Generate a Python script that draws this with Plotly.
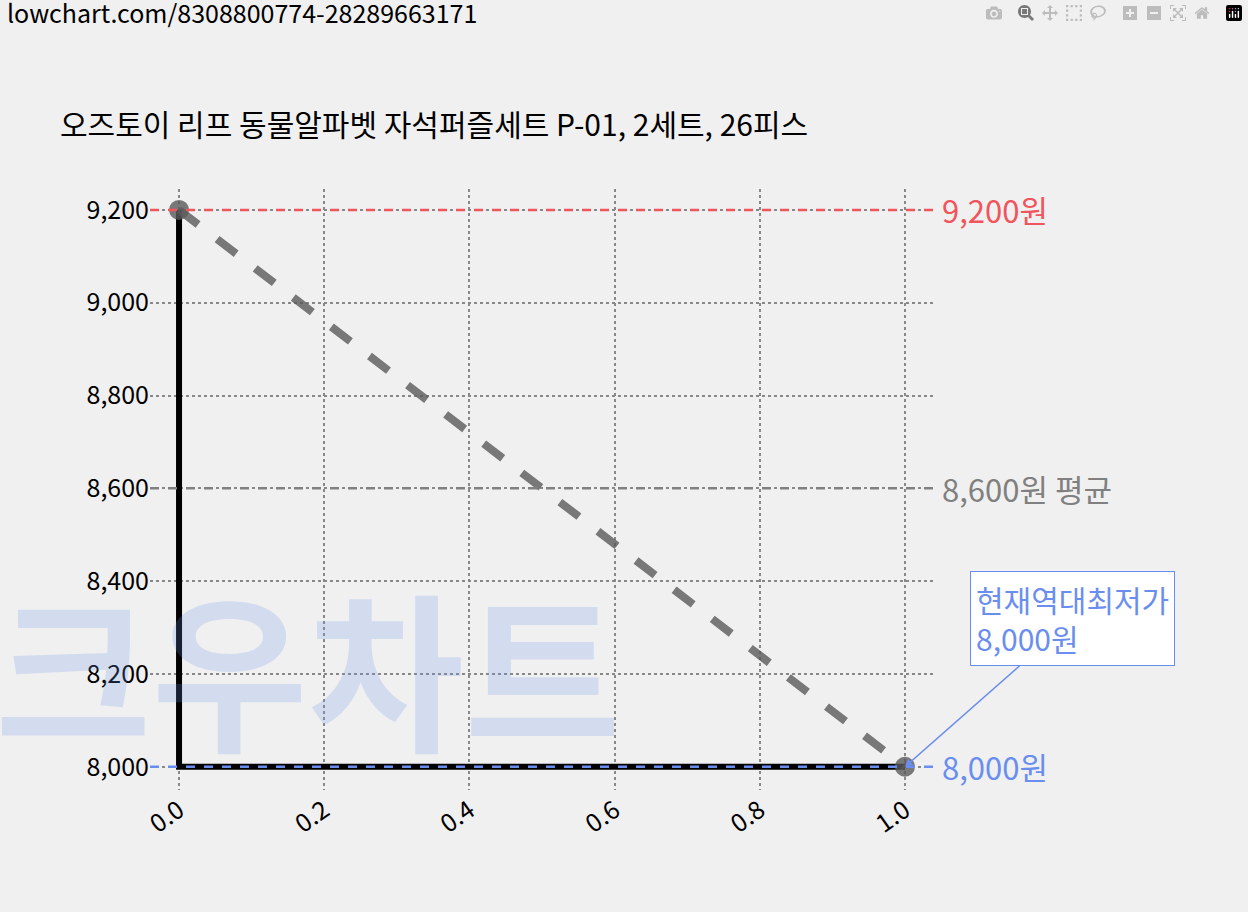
import plotly.graph_objects as go

xs = [0, 1]
prices = [9200, 8000]
max_p, avg_p, min_p = 9200, 8600, 8000
title = "오즈토이 리프 동물알파벳 자석퍼즐세트 P-01, 2세트, 26피스"
url = "lowchart.com/8308800774-28289663171"
yticks = [8000, 8200, 8400, 8600, 8800, 9000, 9200]
xticks = [0.0, 0.2, 0.4, 0.6, 0.8, 1.0]

F = "Noto Sans CJK KR"
fig = go.Figure()
fig.add_annotation(xref="paper", yref="paper", x=-0.2, y=0.0, text="<b>크우차트</b>", showarrow=False,
                   xanchor="left", yanchor="bottom", font=dict(size=170, color="rgba(110,150,235,0.22)", family=F))
fig.add_trace(go.Scatter(x=xs, y=prices, mode="lines", line=dict(color="black", width=6, shape="vh")))
fig.add_trace(go.Scatter(x=xs, y=prices, mode="lines+markers",
                         line=dict(color="rgba(90,90,90,0.8)", width=8, dash="dash"),
                         marker=dict(size=20, color="rgba(90,90,90,0.8)")))
for v, c in [(max_p, "#f0545c"), (avg_p, "#808080"), (min_p, "#6a8ef0")]:
    fig.add_shape(type="line", xref="paper", x0=0, x1=1, y0=v, y1=v,
                  line=dict(color=c, width=2.5, dash="dash"))
fig.add_annotation(xref="paper", x=1.008, y=max_p, text="9,200원", showarrow=False, xanchor="left",
                   font=dict(size=31, color="#f0545c", family=F))
fig.add_annotation(xref="paper", x=1.008, y=avg_p, text="8,600원 평균", showarrow=False, xanchor="left",
                   font=dict(size=31, color="#808080", family=F))
fig.add_annotation(xref="paper", x=1.008, y=min_p, text="8,000원", showarrow=False, xanchor="left",
                   font=dict(size=31, color="#6a8ef0", family=F))
fig.add_annotation(x=1, y=min_p, text="현재역대최저가<br>8,000원", showarrow=True, arrowhead=2,
                   arrowcolor="#6a8ef0", arrowwidth=1.5, ax=168, ay=-148, align="left",
                   bgcolor="white", bordercolor="#6a8ef0", borderwidth=1, borderpad=5,
                   font=dict(size=30, color="#6a8ef0", family=F))
fig.add_annotation(xref="paper", yref="paper", x=-0.117, y=1.11, text=title, showarrow=False,
                   xanchor="left", yanchor="middle", font=dict(size=30, color="black", family=F))
fig.add_annotation(xref="paper", yref="paper", x=-0.185, y=1.295, text=url, showarrow=False,
                   xanchor="left", yanchor="middle", font=dict(size=25, color="black", family=F))

fig.update_layout(width=1248, height=912, paper_bgcolor="#f0f0f0", plot_bgcolor="#f0f0f0",
                  margin=dict(l=150, r=314, t=189, b=122), showlegend=False,
                  font=dict(family=F, color="black"))
fig.update_xaxes(range=[-0.04, 1.04], tickvals=xticks, ticktext=[f"{t:.1f}" for t in xticks],
                 tickangle=-35, tickfont=dict(size=25, color="black"), showgrid=True, gridcolor="#888",
                 griddash="dot", gridwidth=2, zeroline=False, showline=False)
fig.update_yaxes(range=[7950, 9245], tickvals=yticks, ticktext=[f"{t:,}" for t in yticks],
                 tickfont=dict(size=25, color="black"), showgrid=True, gridcolor="#888", griddash="dot",
                 gridwidth=2, zeroline=False, showline=False)
fig.write_html("out.html", post_script="document.body.style.margin='0';document.body.style.background='#f0f0f0';")
